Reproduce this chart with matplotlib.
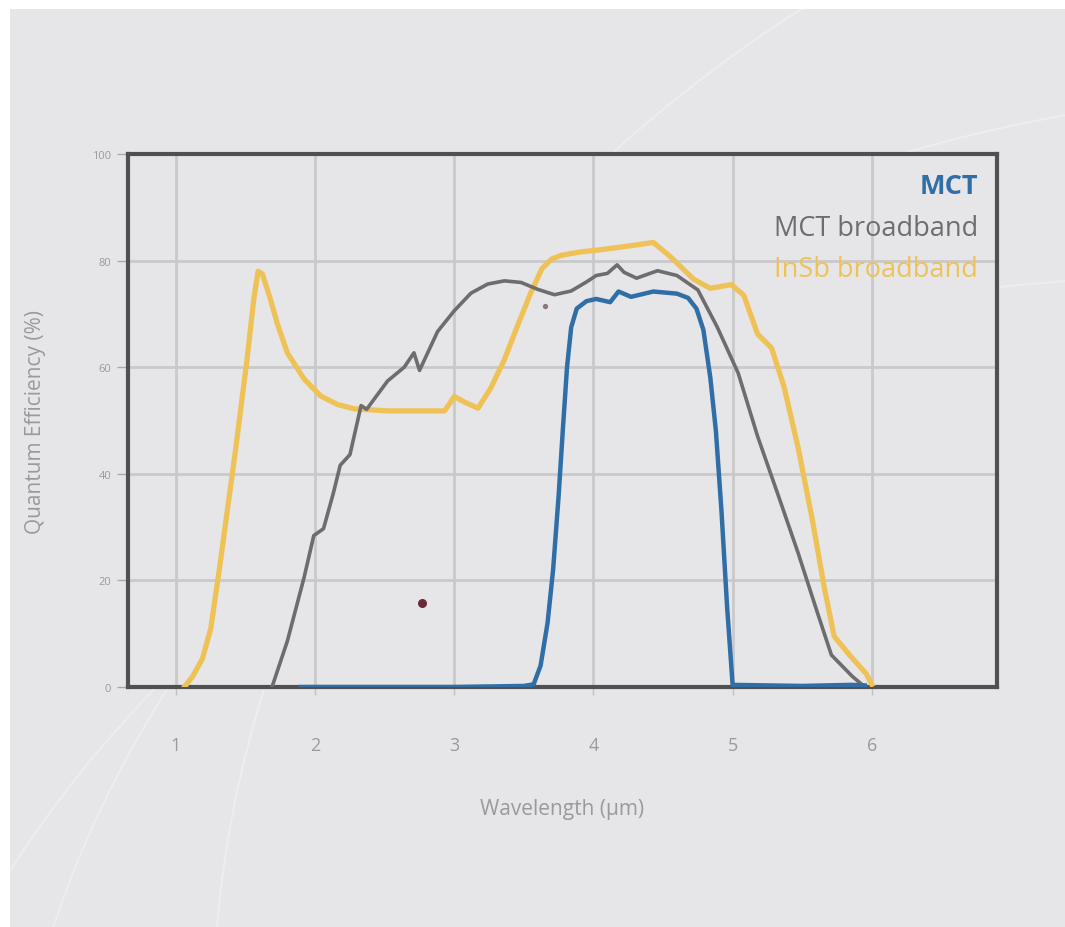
import matplotlib
matplotlib.use("Agg")
import matplotlib.pyplot as plt
from matplotlib.patches import Rectangle, Circle

# Quantum efficiency curves (wavelength in um, QE in %)
mct_x = [1.90, 3.00, 3.50, 3.57, 3.62, 3.67, 3.71, 3.75, 3.78, 3.81, 3.84, 3.88,
         3.95, 4.02, 4.12, 4.18, 4.27, 4.43, 4.60, 4.68, 4.74, 4.79, 4.84, 4.88,
         4.92, 4.96, 5.00, 5.50, 5.85, 5.95]
mct_y = [0.0, 0.0, 0.2, 0.5, 4.0, 12.0, 22.0, 36.0, 48.3, 60.0, 67.5, 71.0,
         72.4, 72.8, 72.2, 74.2, 73.2, 74.2, 73.8, 73.0, 71.0, 67.0, 58.0, 48.0,
         33.0, 15.2, 0.4, 0.2, 0.4, 0.3]

mctb_x = [1.69, 1.80, 1.92, 1.99, 2.06, 2.13, 2.18, 2.25, 2.33, 2.37, 2.52, 2.64,
          2.71, 2.75, 2.88, 3.00, 3.12, 3.24, 3.36, 3.48, 3.60, 3.72, 3.84, 3.95,
          4.02, 4.10, 4.17, 4.22, 4.31, 4.46, 4.60, 4.75, 4.89, 5.04, 5.18, 5.33,
          5.47, 5.61, 5.71, 5.86, 5.95]
mctb_y = [0.0, 8.6, 20.5, 28.4, 29.7, 36.3, 41.6, 43.6, 52.8, 52.1, 57.4, 60.0,
          62.7, 59.4, 66.7, 70.6, 73.9, 75.6, 76.2, 75.9, 74.6, 73.6, 74.3, 76.0,
          77.2, 77.6, 79.2, 77.8, 76.7, 78.1, 77.2, 74.5, 67.5, 58.9, 47.0, 35.8,
          25.2, 13.9, 6.0, 2.0, 0.0]

insb_x = [1.06, 1.12, 1.19, 1.25, 1.31, 1.43, 1.51, 1.56, 1.59, 1.62, 1.67, 1.73,
          1.80, 1.92, 2.04, 2.16, 2.28, 2.52, 2.93, 3.00, 3.07, 3.17, 3.26, 3.36,
          3.45, 3.55, 3.63, 3.70, 3.77, 3.90, 4.07, 4.27, 4.43, 4.55, 4.72, 4.84,
          4.99, 5.08, 5.18, 5.28, 5.37, 5.47, 5.57, 5.66, 5.73, 5.84, 5.96, 6.00]
insb_y = [0.0, 2.0, 5.3, 11.0, 21.8, 44.9, 61.4, 73.0, 78.0, 77.5, 73.5, 68.0,
          62.7, 57.8, 54.6, 53.0, 52.2, 51.8, 51.8, 54.5, 53.5, 52.3, 56.0, 61.4,
          67.5, 74.0, 78.5, 80.3, 81.0, 81.6, 82.1, 82.8, 83.4, 80.8, 76.5, 74.8,
          75.5, 73.5, 66.2, 63.6, 56.3, 45.0, 31.8, 18.5, 9.5, 6.0, 2.5, 0.5]

x_ticks = [1, 2, 3, 4, 5, 6]
y_ticks = [0, 20, 40, 60, 80, 100]
series_names = ["MCT", "MCT broadband", "InSb broadband"]

BG = "#e6e6e8"
BLUE = "#2f6ea6"
GREY = "#6d6d70"
YELLOW = "#efc257"
LABEL = "#9a9a9c"

plt.rcParams["font.family"] = ["Open Sans", "DejaVu Sans"]

fig = plt.figure(figsize=(10.65, 9.28), dpi=100, facecolor="white")

# grey card with a thin white margin top/left
fig.patches.append(Rectangle((10 / 1065, 0), 1, 1 - 10 / 928, transform=fig.transFigure,
                             facecolor=BG, edgecolor="none", zorder=-10))
# faint arcs in the background
for cx, cy, r in [(1.25, -0.35, 1.25), (1.10, -0.55, 1.25), (1.55, -0.10, 1.35)]:
    fig.patches.append(Circle((cx, cy), r, transform=fig.transFigure, fill=False,
                              edgecolor="white", alpha=0.3, lw=1.5, zorder=-9))

ax = fig.add_axes([128 / 1065, 1 - 688 / 928, (997 - 128) / 1065, (688 - 155) / 928])
ax.set_facecolor(BG)

ax.plot(insb_x, insb_y, color=YELLOW, lw=3.8, solid_joinstyle="round", zorder=3)
ax.plot(mctb_x, mctb_y, color=GREY, lw=2.6, solid_joinstyle="round", zorder=4)
ax.plot(mct_x, mct_y, color=BLUE, lw=3.2, solid_joinstyle="round", zorder=5)

# stray dots seen in the source image
ax.scatter([2.77], [15.8], s=30, color="#6b2a3a", zorder=6)
ax.scatter([3.65], [71.5], s=8, color="#8a7a7a", zorder=6)

ax.set_xlim(0.655, 6.9)
ax.set_ylim(0, 100)
ax.set_xticks(x_ticks)
ax.set_yticks(y_ticks)
ax.grid(True, color="#c9c9cb", lw=2.0, zorder=0)
ax.set_axisbelow(True)

for s in ax.spines.values():
    s.set_color("#505052")
    s.set_linewidth(3)

ax.tick_params(axis="y", colors="#aaaaac", length=8, width=1, labelsize=8,
               labelcolor=LABEL, pad=4)
ax.tick_params(axis="x", colors="#c2c2c4", length=6, width=1, labelsize=13,
               labelcolor=LABEL, pad=29)

ax.set_xlabel("Wavelength (µm)", fontsize=15, color=LABEL, labelpad=32)
ax.set_ylabel("Quantum Efficiency (%)", fontsize=15, color=LABEL, labelpad=33)

legend_colors = [BLUE, GREY, YELLOW]
legend_weights = ["bold", "normal", "normal"]
for i, (name, c, w) in enumerate(zip(series_names, legend_colors, legend_weights)):
    ax.text(0.978, 0.94 - i * 0.078, name, transform=ax.transAxes, ha="right",
            va="center", fontsize=19.5, color=c, fontweight=w, zorder=7)

fig.savefig("out.png", dpi=100, facecolor="white")
